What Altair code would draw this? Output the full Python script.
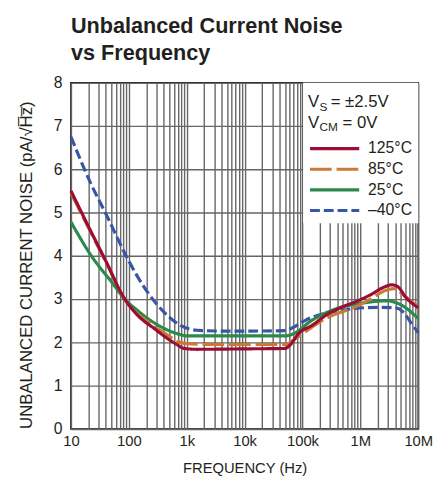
import altair as alt
import pandas as pd

# ---- data ----
names = ["125°C", "85°C", "25°C", "–40°C"]

freq_125 = [10, 20, 40, 85, 143, 275, 465, 690, 900, 1500, 10000, 50000, 62000, 85000, 145000, 277000, 470000, 900000, 1500000, 2500000, 3500000, 4500000, 6000000, 10000000]
val_125 = [5.5, 4.68, 3.88, 3.0, 2.62, 2.32, 2.09, 1.94, 1.86, 1.84, 1.85, 1.86, 1.95, 2.2, 2.39, 2.66, 2.81, 2.96, 3.1, 3.27, 3.33, 3.28, 3.05, 2.8]

freq_85 = [10, 20, 40, 85, 143, 213, 465, 690, 1000, 3000, 50000, 76000, 100000, 277000, 790000, 1500000, 2600000, 3800000, 5000000, 7000000, 10000000]
val_85 = [5.45, 4.65, 3.86, 3.0, 2.65, 2.47, 2.17, 2.02, 1.97, 1.95, 1.95, 2.09, 2.2, 2.58, 2.81, 3.0, 3.19, 3.24, 3.15, 2.98, 2.83]

freq_25 = [10, 23, 50, 85, 143, 213, 690, 1000, 50000, 70000, 145000, 410000, 1000000, 2900000, 5600000, 10000000]
val_25 = [4.78, 3.98, 3.4, 3.0, 2.73, 2.55, 2.2, 2.15, 2.15, 2.2, 2.51, 2.79, 2.9, 2.96, 2.83, 2.55]

freq_m40 = [10, 21, 44, 85, 134, 213, 465, 780, 1500, 5000, 50000, 70000, 112000, 410000, 2100000, 4000000, 5500000, 7500000, 10000000]
val_m40 = [6.75, 5.73, 4.86, 4.06, 3.57, 3.15, 2.62, 2.39, 2.28, 2.26, 2.27, 2.35, 2.51, 2.73, 2.81, 2.8, 2.7, 2.45, 2.22]

colors = ["#9b0d35", "#c97b36", "#2a8a4b", "#3956a6"]
dashes = [[1, 0], [22, 5], [1, 0], [10, 4]]

x_ticks = [m * 10 ** e for e in range(1, 7) for m in range(1, 10)] + [10000000]
y_ticks = [0, 1, 2, 3, 4, 5, 6, 7, 8]

# draw order: blue first, red last (on top)
series = [("–40°C", freq_m40, val_m40), ("25°C", freq_25, val_25),
          ("85°C", freq_85, val_85), ("125°C", freq_125, val_125)]
rows = []
for name, fs, vs in series:
    for f, v in zip(fs, vs):
        rows.append({"series": name, "freq": f, "noise": v})
df = pd.DataFrame(rows)

FONT = "Liberation Sans, Arial, sans-serif"
INK = "#231f20"
W, H = 353, 352

label_expr = ("datum.value == 10 ? '10' : datum.value == 100 ? '100' : "
              "datum.value == 1000 ? '1k' : datum.value == 10000 ? '10k' : "
              "datum.value == 100000 ? '100k' : datum.value == 1000000 ? '1M' : "
              "datum.value == 10000000 ? '10M' : ''")

x_axis = alt.Axis(values=x_ticks, labelExpr=label_expr, ticks=False, domain=False,
                  grid=True, gridColor="#666666", gridWidth=1.4,
                  labelFont=FONT, labelFontSize=15, labelColor=INK, labelPadding=5,
                  labelOverlap=False, labelFlush=False,
                  title="FREQUENCY (Hz)", titleFont=FONT, titleFontSize=15,
                  titleFontWeight="normal", titleColor=INK,
                  titleX=W / 2, titleY=44, titleBaseline="alphabetic")
y_axis = alt.Axis(values=y_ticks, ticks=False, domain=False, grid=True,
                  gridColor="#666666", gridWidth=1.4,
                  labelFont=FONT, labelFontSize=16, labelColor=INK, labelPadding=9,
                  title="UNBALANCED CURRENT NOISE (pA/√H̅z̅)", titleFont=FONT,
                  titleFontSize=17, titleFontWeight="normal", titleColor=INK,
                  titleX=-45, titleY=185, titleAngle=-90, titleBaseline="middle",
                  titleAlign="center")

legend = alt.Legend(orient="none", legendX=241, legendY=59, title=None,
                    symbolType="stroke", symbolSize=2500, symbolStrokeWidth=3.2,
                    clipHeight=16, rowPadding=5, labelOffset=7, labelFont=FONT,
                    labelFontSize=16, labelColor=INK, padding=0)

base = alt.Chart(df)

lines = base.mark_line(strokeWidth=3.2, interpolate="monotone").encode(
    x=alt.X("freq:Q", scale=alt.Scale(type="log", domain=[10, 10000000], nice=False), axis=x_axis),
    y=alt.Y("noise:Q", scale=alt.Scale(domain=[0, 8], nice=False), axis=y_axis),
    color=alt.Color("series:N", scale=alt.Scale(domain=names, range=colors), legend=legend),
    strokeDash=alt.StrokeDash("series:N", scale=alt.Scale(domain=names, range=dashes), legend=legend),
)

box = alt.Chart(pd.DataFrame({"a": [0]})).mark_rect(color="white").encode(
    x=alt.value(236), x2=alt.value(W), y=alt.value(0), y2=alt.value(143))


def txt(s, x, y, size):
    return alt.Chart(pd.DataFrame({"t": [s]})).mark_text(
        align="left", baseline="alphabetic", font=FONT, fontSize=size, color=INK
    ).encode(text="t:N", x=alt.value(x), y=alt.value(y))


hdr = (txt("V", 241, 25, 17) + txt("S", 252.5, 28.5, 12) + txt("= ±2.5V", 264, 25, 17)
       + txt("V", 241, 46, 17) + txt("CM", 252.5, 49.5, 12) + txt("= 0V", 276, 46, 17))

chart = alt.layer(box, lines, hdr).properties(
    width=W, height=H,
    title=alt.TitleParams(["Unbalanced Current Noise", "vs Frequency"], anchor="start",
                          frame="group", font=FONT, fontSize=22, fontWeight="bold",
                          color=INK, offset=10, lineHeight=27),
).configure(
    autosize="none", padding={"left": 64, "top": 72, "right": 16, "bottom": 47},
    background="white",
).configure_view(stroke="black", strokeWidth=1.5)

chart.save("out.html", embed_options={"renderer": "svg", "actions": False})
